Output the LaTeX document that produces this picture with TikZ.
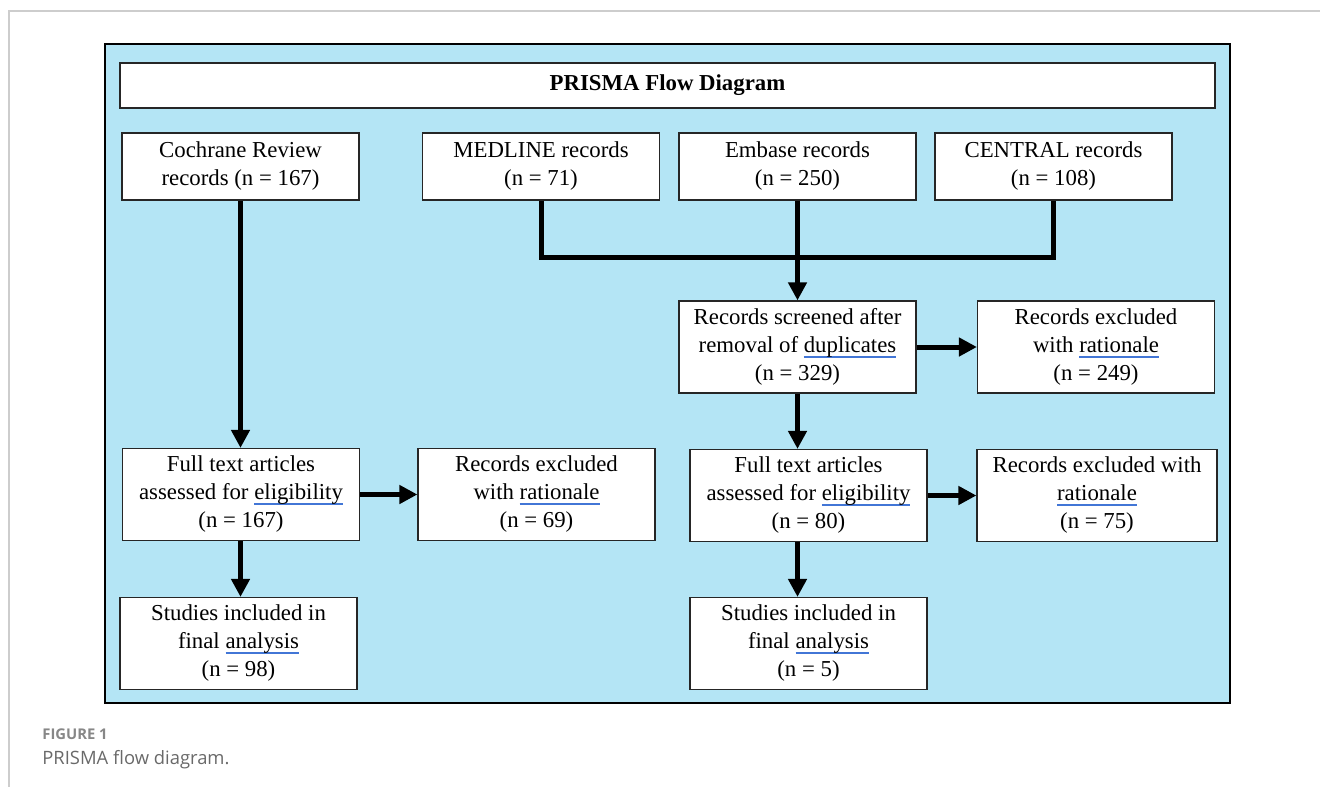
\documentclass[tikz,border=0pt]{standalone}
\usepackage{fontspec}
\setmainfont{Liberation Serif}
\newfontfamily\capfont{Open Sans}
\usetikzlibrary{arrows.meta,positioning,calc}
\definecolor{sky}{RGB}{180,229,245}
\definecolor{spell}{RGB}{66,118,214}
\definecolor{pageline}{RGB}{205,205,205}
\definecolor{capgray}{RGB}{105,105,105}
\newsavebox\sqbox
\newcommand\sqw[1]{\sbox\sqbox{#1}\rlap{\color{spell}\rule[-2.6pt]{\wd\sqbox}{0.9pt}}\usebox\sqbox}

\begin{document}
\begin{tikzpicture}[x=0.5pt,y=-0.5pt,
  box/.style={draw=black!85,line width=0.6pt,fill=white,minimum width=118.5pt,
    minimum height=46pt,inner sep=0pt,align=center,font=\fontsize{11.4}{14}\selectfont},
  src/.style={box,minimum height=33.5pt},
  arr/.style={line width=2.5pt,-{Triangle[length=9pt,width=9pt]}},
  link/.style={line width=2.5pt}]
  \useasboundingbox (0,0) rectangle (1320,787);
  \draw[pageline,line width=0.6pt] (1320,11) -- (9,11) -- (9,787);
  \draw[fill=sky,line width=0.8pt] (105,44) rectangle (1230,703);
  \node[box,minimum width=547.5pt,minimum height=22.5pt,
    font=\fontsize{11.4}{14}\selectfont\bfseries] (title) at (667.5,85.5) {PRISMA Flow Diagram};
  % sources
  \node[src] (coch) at (240.5,166.5) {Cochrane Review\\records (n = 167)};
  \node[src] (med) at (541,166.5) {MEDLINE records\\(n = 71)};
  \node[src] (emb) at (797.5,166.5) {Embase records\\(n = 250)};
  \node[src] (cen) at (1053.5,166.5) {CENTRAL records\\(n = 108)};
  % screening
  \node[box] (scr) at (797.5,347) {Records screened after\\removal of \sqw{duplicates}\\(n = 329)};
  \node[box] (exA) at (1096,347) {Records excluded\\with \sqw{rationale}\\(n = 249)};
  % eligibility
  \node[box] (ftL) at (241,494.5) {Full text articles\\assessed for \sqw{eligibility}\\(n = 167)};
  \node[box] (exL) at (536.5,494.5) {Records excluded\\with \sqw{rationale}\\(n = 69)};
  \node[box] (ftR) at (808.5,495.5) {Full text articles\\assessed for \sqw{eligibility}\\(n = 80)};
  \node[box,minimum width=120pt] (exR) at (1097,495.5) {Records excluded with\\\sqw{rationale}\\(n = 75)};
  % included
  \node[box] (stL) at (238.5,643.5) {Studies included in\\final \sqw{analysis}\\(n = 98)};
  \node[box] (stR) at (808.5,643.5) {Studies included in\\final \sqw{analysis}\\(n = 5)};
  % connectors
  \coordinate (mrg) at (797.5,257);
  \draw[link] (med.south) |- (mrg) -| (cen.south);
  \draw[arr] (emb.south) -- (scr.north);
  \draw[arr] (scr.east) -- (exA.west);
  \draw[arr] (scr.south) -- (scr.south |- ftR.north);
  \draw[arr] (ftR.east) -- (exR.west);
  \draw[arr] (ftR.south -| scr.south) -- (stR.north -| scr.south);
  \draw[arr] (coch.south) -- (coch.south |- ftL.north);
  \draw[arr] (ftL.east) -- (exL.west);
  \draw[arr] (ftL.south -| coch.south) -- (stL.north -| coch.south);
  % caption
  \node[anchor=base west,inner sep=0pt,text=capgray!80,font=\capfont\fontsize{7.4}{9}\selectfont\bfseries] (fig) at (42,739) {FIGURE 1};
  \node[anchor=base west,inner sep=0pt,text=capgray,font=\capfont\fontsize{9.2}{11}\selectfont] (cap) at (42,764) {PRISMA flow diagram.};
\end{tikzpicture}
\end{document}
